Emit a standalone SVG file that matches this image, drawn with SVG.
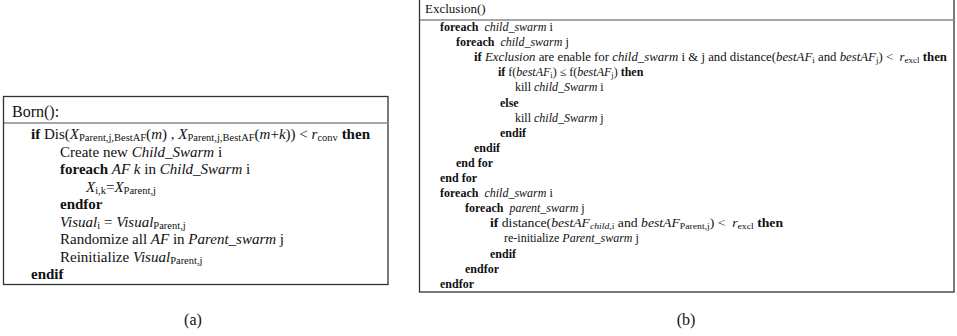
<svg xmlns="http://www.w3.org/2000/svg" width="957" height="336" viewBox="0 0 957 336" font-family="'Liberation Serif', 'Times New Roman', 'DejaVu Serif', serif">
<style>
text{fill:#111}
.a{font-size:15px}
.b{font-size:12px}
.k{font-weight:bold}
.i{font-style:italic}
.box{fill:none;stroke:#333;stroke-width:1.3}
.sep{stroke:#8a8a8a;stroke-width:1.6}
.lbl{font-size:16px}
</style>
<g id="panel-a" font-family="'Liberation Serif', 'Times New Roman', serif">
<rect class="box" x="3.5" y="96.5" width="384.5" height="188"/>
<line class="sep" x1="4" y1="123" x2="388" y2="123"/>
<text x="12" y="117" font-size="16">Born():</text>
<text class="a" x="31" y="139" textLength="339" lengthAdjust="spacingAndGlyphs"><tspan class="k">if</tspan> Dis(<tspan class="i">X</tspan><tspan font-size="10.5" baseline-shift="-2">Parent,j,BestAF</tspan>(<tspan class="i">m</tspan>) , <tspan class="i">X</tspan><tspan font-size="10.5" baseline-shift="-2">Parent,j,BestAF</tspan>(<tspan class="i">m</tspan>+<tspan class="i">k</tspan>)) &lt; <tspan class="i">r</tspan><tspan font-size="10.5" baseline-shift="-2">conv</tspan> <tspan class="k">then</tspan></text>
<text class="a" x="60" y="156.5">Create new <tspan class="i">Child_Swarm</tspan> i</text>
<text class="a" x="60" y="174"><tspan class="k">foreach</tspan> <tspan class="i">AF k</tspan> in <tspan class="i">Child_Swarm</tspan> i</text>
<text class="a" x="86" y="191.5"><tspan class="i">X</tspan><tspan font-size="10.5" baseline-shift="-2">i,k</tspan>=<tspan class="i">X</tspan><tspan font-size="10.5" baseline-shift="-2">Parent,j</tspan></text>
<text class="a k" x="60" y="209">endfor</text>
<text class="a" x="60" y="226.5"><tspan class="i">Visual</tspan><tspan font-size="10.5" baseline-shift="-2">i</tspan> = <tspan class="i">Visual</tspan><tspan font-size="10.5" baseline-shift="-2">Parent,j</tspan></text>
<text class="a" x="60" y="244">Randomize all <tspan class="i">AF</tspan> in <tspan class="i">Parent_swarm</tspan> j</text>
<text class="a" x="60" y="261.5">Reinitialize <tspan class="i">Visual</tspan><tspan font-size="10.5" baseline-shift="-2">Parent,j</tspan></text>
<text class="a k" x="31" y="279">endif</text>
</g>
<g id="panel-b" font-family="'Liberation Serif', 'Times New Roman', serif">
<rect class="box" x="419.5" y="-1" width="534.5" height="293"/>
<line class="sep" x1="420" y1="20" x2="954" y2="20"/>
<text x="425" y="13" font-size="13">Exclusion()</text>
<text class="b" x="440" y="31"><tspan class="k">foreach</tspan> <tspan class="i" dx="3">child_swarm</tspan> i</text>
<text class="b" x="456" y="46.1"><tspan class="k">foreach</tspan> <tspan class="i" dx="3">child_swarm</tspan> j</text>
<text class="b" x="474" y="61.2" textLength="473" lengthAdjust="spacingAndGlyphs"><tspan class="k">if</tspan> <tspan class="i">Exclusion</tspan> are enable for <tspan class="i">child_swarm</tspan> i &amp; j and distance(<tspan class="i">bestAF</tspan><tspan font-size="8.5" baseline-shift="-1.5">i</tspan> and <tspan class="i">bestAF</tspan><tspan font-size="8.5" baseline-shift="-1.5">j</tspan>) &lt; <tspan class="i" dx="3">r</tspan><tspan font-size="8.5" baseline-shift="-1.5">excl</tspan> <tspan class="k">then</tspan></text>
<text class="b" x="498" y="76.3"><tspan class="k">if</tspan> f(<tspan class="i">bestAF</tspan><tspan font-size="8.5" baseline-shift="-1.5">i</tspan>) ≤ f(<tspan class="i">bestAF</tspan><tspan font-size="8.5" baseline-shift="-1.5">j</tspan>) <tspan class="k">then</tspan></text>
<text class="b" x="515" y="91.4">kill <tspan class="i">child_Swarm</tspan> i</text>
<text class="b k" x="500" y="106.5">else</text>
<text class="b" x="515" y="121.6">kill <tspan class="i">child_Swarm</tspan> j</text>
<text class="b k" x="500" y="136.7">endif</text>
<text class="b k" x="474" y="151.8">endif</text>
<text class="b k" x="456" y="166.9">end for</text>
<text class="b k" x="440" y="182">end for</text>
<text class="b" x="440" y="197.1"><tspan class="k">foreach</tspan> <tspan class="i" dx="3">child_swarm</tspan> i</text>
<text class="b" x="465" y="212.2"><tspan class="k">foreach</tspan> <tspan class="i" dx="3">parent_swarm</tspan> j</text>
<text class="b" x="490" y="227.3" textLength="293" lengthAdjust="spacingAndGlyphs"><tspan class="k">if</tspan> distance(<tspan class="i">bestAF</tspan><tspan font-size="8.5" baseline-shift="-1.5"><tspan class="i">child</tspan>,i</tspan> and <tspan class="i">bestAF</tspan><tspan font-size="8.5" baseline-shift="-1.5">Parent,j</tspan>) &lt; <tspan class="i" dx="3">r</tspan><tspan font-size="8.5" baseline-shift="-1.5">excl</tspan> <tspan class="k">then</tspan></text>
<text class="b" x="504" y="242.4">re-initialize <tspan class="i">Parent_swarm</tspan> j</text>
<text class="b k" x="490" y="257.5">endif</text>
<text class="b k" x="465" y="272.6">endfor</text>
<text class="b k" x="440" y="287.7">endfor</text>
</g>
<g id="labels" font-family="'Liberation Serif', 'Times New Roman', serif">
<text class="lbl" x="193" y="325" text-anchor="middle">(a)</text>
<text class="lbl" x="686" y="325" text-anchor="middle">(b)</text>
</g>
</svg>
